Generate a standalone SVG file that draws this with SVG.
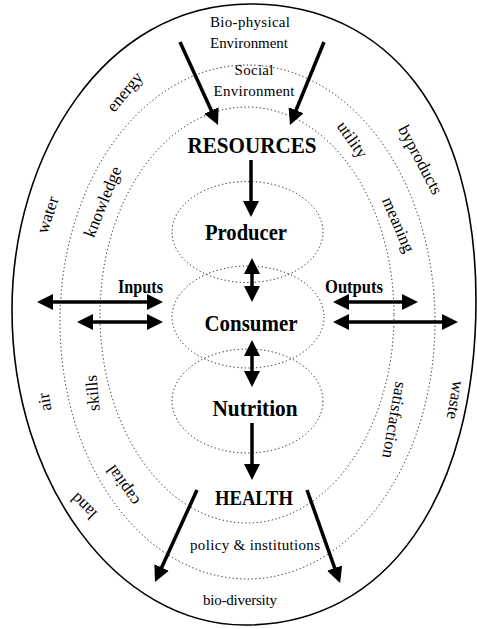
<svg xmlns="http://www.w3.org/2000/svg" width="477" height="629" viewBox="0 0 477 629">
<style>
.bg{fill:#fff}
.outer{fill:none;stroke:#000;stroke-width:1.6}
.dot{fill:none;stroke:#111;stroke-width:1;stroke-dasharray:1.2 2.6}
.t{font-family:"Liberation Serif","Times New Roman",serif;fill:#000}
.b{font-weight:bold;text-anchor:middle}
.r{font-size:15px;text-anchor:middle}
.ring{font-size:17px;text-anchor:middle}
.ar{fill:none;stroke:#000;stroke-width:3.5}
.ah{fill:#000}
</style>
<defs>
<marker id="head" markerUnits="userSpaceOnUse" markerWidth="18" markerHeight="18" refX="3" refY="8" orient="auto-start-reverse">
<path class="ah" d="M0,0 L16,8 L0,16 Z"/>
</marker>
</defs>
<rect class="bg" x="0" y="0" width="477" height="629"/>

<g id="rings">
<path class="outer" d="M12,310 C12,157 102,4 250,4 C390,4 476,116 476,300 C476,495 388,625 245,625 C117,625 12,483 12,310 Z"/>
<ellipse class="dot" cx="247.5" cy="322" rx="187.5" ry="257"/>
<ellipse class="dot" cx="247" cy="315" rx="147" ry="208"/>
</g>

<g id="producer">
<ellipse class="dot" cx="247.5" cy="232" rx="75.5" ry="50.5"/>
<text class="t b" x="246" y="240" font-size="24" textLength="82" lengthAdjust="spacingAndGlyphs">Producer</text>
</g>
<g id="consumer">
<ellipse class="dot" cx="248" cy="317" rx="76" ry="51"/>
<text class="t b" x="251" y="331" font-size="24" textLength="93" lengthAdjust="spacingAndGlyphs">Consumer</text>
</g>
<g id="nutrition">
<ellipse class="dot" cx="247.5" cy="401" rx="75.5" ry="52"/>
<text class="t b" x="255" y="416" font-size="24" textLength="85" lengthAdjust="spacingAndGlyphs">Nutrition</text>
</g>
<g id="resources">
<text class="t b" x="252" y="153" font-size="24" textLength="129" lengthAdjust="spacingAndGlyphs">RESOURCES</text>
</g>
<g id="health">
<text class="t b" x="254" y="505" font-size="20" textLength="78" lengthAdjust="spacingAndGlyphs">HEALTH</text>
</g>
<g id="inputs">
<text class="t b" x="140.5" y="293" font-size="18" textLength="45" lengthAdjust="spacingAndGlyphs">Inputs</text>
</g>
<g id="outputs">
<text class="t b" x="354" y="293" font-size="18" textLength="58" lengthAdjust="spacingAndGlyphs">Outputs</text>
</g>
<g id="environment">
<text class="t r" x="250" y="27" textLength="80">Bio-physical</text>
<text class="t r" x="249" y="48" textLength="78">Environment</text>
<text class="t r" x="254" y="75" textLength="39">Social</text>
<text class="t r" x="254" y="96" textLength="81">Environment</text>
</g>
<g id="bottom-labels">
<text class="t r" x="255" y="550" textLength="130">policy &amp; institutions</text>
<text class="t r" x="240" y="605" textLength="74">bio-diversity</text>
</g>
<g id="ring-labels">
<text class="t ring" transform="translate(125,92) rotate(-50)" dy="0.3em">energy</text>
<text class="t ring" transform="translate(48,215) rotate(-72)" dy="0.3em">water</text>
<text class="t ring" transform="translate(103,202) rotate(-68)" dy="0.3em">knowledge</text>
<text class="t ring" transform="translate(352,140) rotate(55)" dy="0.3em">utility</text>
<text class="t ring" transform="translate(420,160) rotate(62)" dy="0.3em">byproducts</text>
<text class="t ring" transform="translate(398,225) rotate(67)" dy="0.3em">meaning</text>
<text class="t ring" transform="translate(455,400) rotate(100)" dy="0.3em">waste</text>
<text class="t ring" transform="translate(394,420) rotate(100)" dy="0.3em">satisfaction</text>
<text class="t ring" transform="translate(45,402) rotate(-100)" dy="0.3em">air</text>
<text class="t ring" transform="translate(93,393) rotate(-95)" dy="0.3em">skills</text>
<text class="t ring" transform="translate(123,485) rotate(-125)" dy="0.3em">capital</text>
<text class="t ring" transform="translate(84,506) rotate(-135)" dy="0.3em">land</text>
</g>

<g id="connectors">
<line class="ar" x1="251" y1="160" x2="251" y2="204" marker-end="url(#head)"/>
<line class="ar" x1="252" y1="271" x2="252" y2="289" marker-start="url(#head)" marker-end="url(#head)"/>
<line class="ar" x1="252" y1="353" x2="252" y2="374" marker-start="url(#head)" marker-end="url(#head)"/>
<line class="ar" x1="252" y1="423" x2="252" y2="467" marker-end="url(#head)"/>
<line class="ar" x1="180" y1="42" x2="212.6" y2="113.2" marker-end="url(#head)"/>
<line class="ar" x1="324" y1="42" x2="294.9" y2="113" marker-end="url(#head)"/>
<line class="ar" x1="197" y1="490" x2="160.4" y2="570.2" marker-end="url(#head)"/>
<line class="ar" x1="307" y1="490" x2="335.7" y2="570.8" marker-end="url(#head)"/>
<line class="ar" x1="50" y1="302" x2="150" y2="302" marker-start="url(#head)" marker-end="url(#head)"/>
<line class="ar" x1="90" y1="322" x2="150" y2="322" marker-start="url(#head)" marker-end="url(#head)"/>
<line class="ar" x1="346" y1="302" x2="405" y2="302" marker-start="url(#head)" marker-end="url(#head)"/>
<line class="ar" x1="346" y1="322" x2="445" y2="322" marker-start="url(#head)" marker-end="url(#head)"/>
</g>
</svg>
